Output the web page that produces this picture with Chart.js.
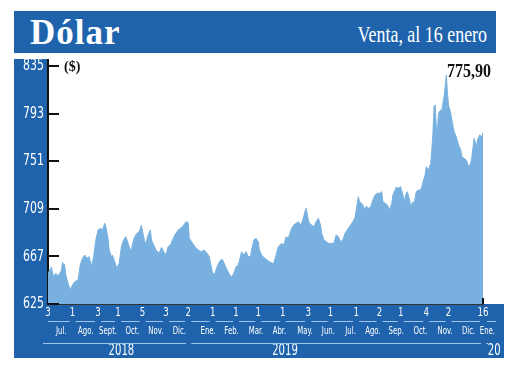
<!DOCTYPE html>
<html><head><meta charset="utf-8">
<script src="https://cdn.jsdelivr.net/npm/chart.js@4/dist/chart.umd.min.js"></script>
<style>
html,body{margin:0;padding:0;background:#fff;}
#wrap{position:relative;width:520px;height:381px;overflow:hidden;}
#c{position:absolute;left:0;top:0;}
#hdr{position:absolute;left:14px;top:11px;width:482px;height:42px;background:#1f63ad;}
#t1{position:absolute;left:16px;top:4px;color:#fff;font:bold 35px/1 'Liberation Serif',serif;letter-spacing:1px;white-space:nowrap;}
#t2{position:absolute;right:9px;top:12px;color:#fff;font:23px/1 'Liberation Serif',serif;transform:scaleX(0.78);transform-origin:right center;white-space:nowrap;}
#unit{position:absolute;left:64px;top:60px;font:bold 14px/1 'Liberation Serif',serif;color:#111;}
#last{position:absolute;left:447px;top:62px;font:bold 18px/1 'Liberation Serif',serif;color:#111;transform:scaleX(0.89);transform-origin:left center;white-space:nowrap;}
</style></head>
<body>
<div id="wrap">
<canvas id="c" width="520" height="381"></canvas>
<div id="hdr"><div id="t1">Dólar</div><div id="t2">Venta, al 16 enero</div></div>
<div id="unit">($)</div>
<div id="last"></div>
</div>
<script>
// trading-session index (0 = 3 jul 2018, 391 = 16 ene 2020)
const sessions = [
0,3,5,7,9,12,13,15,16,18,
20,22,24,27,29,31,33,35,37,39,
41,43,45,47,49,51,52,54,55,57,
58,60,62,64,66,68,70,71,73,75,
76,78,80,82,84,85,87,88,90,92,
93,95,97,100,102,104,106,108,110,112,
114,117,119,121,123,124,126,127,129,131,
133,135,138,140,142,144,145,147,148,150,
152,154,156,157,159,161,163,165,167,169,
171,173,174,176,178,180,182,183,185,187,
189,190,192,194,196,199,202,203,205,207,
210,212,214,216,219,221,223,225,227,229,
231,232,234,235,237,239,241,243,245,246,
248,250,252,255,257,259,261,263,265,267,
270,272,274,276,277,279,280,282,283,285,
286,288,290,292,294,296,298,300,301,303,
305,307,309,310,312,313,315,317,319,320,
322,323,325,326,328,329,331,333,335,336,
338,339,340,342,344,345,346,347,348,349,
350,351,353,354,356,357,358,359,360,362,
363,365,367,369,371,372,374,376,378,380,
381,383,385,386,388,390,391];
const values = [
652.1,657.4,649.1,652.1,649.7,654.4,661.5,659.4,650.6,643.3,
637.4,641.8,644.7,646.2,659.4,665.3,668.2,665.3,666.8,657.9,
666.8,681.5,690.3,691.8,690.3,696.2,693.2,683.0,672.6,666.8,
668.2,662.3,656.5,660.9,675.6,681.5,684.4,681.5,675.6,671.1,
678.5,684.4,687.4,688.8,694.7,688.8,680.0,678.5,685.9,690.3,
681.5,677.1,672.6,669.7,675.0,671.1,668.2,675.6,677.1,681.5,
685.9,690.3,691.8,693.2,696.2,697.6,696.7,683.0,680.0,677.1,
674.7,672.6,671.1,672.6,671.1,668.2,666.8,656.5,651.5,652.1,
657.9,662.3,664.4,663.8,659.4,655.0,651.5,648.5,652.1,657.9,
659.4,666.8,671.1,668.2,671.1,666.8,666.8,672.6,681.5,683.0,
680.0,672.6,668.2,666.1,664.4,662.3,660.9,661.5,668.2,675.6,
678.5,677.1,684.4,683.0,691.8,694.7,696.2,697.6,694.7,699.1,
706.4,709.4,699.1,696.2,694.7,693.2,697.6,700.6,694.7,687.4,
681.5,680.0,678.5,678.5,678.5,685.9,684.4,680.0,681.5,687.4,
691.8,694.7,697.6,701.5,707.9,719.7,715.3,713.8,712.4,707.9,
711.5,709.4,710.9,716.8,721.2,722.7,722.7,724.1,715.3,713.8,
712.4,708.0,713.8,721.2,725.6,728.0,727.1,728.5,721.2,715.3,
722.7,724.1,716.8,710.9,715.3,712.4,724.1,725.6,725.6,728.5,
735.9,738.8,746.2,743.2,749.1,760.9,775.6,799.1,800.6,781.4,
777.0,793.3,796.2,796.2,808.0,816.8,827.1,812.3,800.6,793.3,
787.4,777.0,772.6,765.3,760.9,754.9,753.5,752.1,746.2,749.1,
754.9,771.2,763.8,769.7,774.1,772.6,775.9];
const yTicks = [625,667,709,751,793,835];
const monthStarts = [0,22,45,63,85,106,126,148,169,189,211,234,254,277,298,317,340,360,391];
const dayLabels = ['3','1','3','1','5','3','2','1','1','1','1','3','1','1','2','1','4','2','16'];
const monthCenters = [12,34,54,76,97,118,144,165,187,208,231,252,272,292,313,335,357,378,395];
const monthLabels = ['Jul.','Ago.','Sept.','Oct.','Nov.','Dic.','Ene.','Feb.','Mar.','Abr.','May.','Jun.','Jul.','Ago.','Sep.','Oct.','Nov.','Dic.','Ene.'];
const yearStarts = [0,126,391];
const yearCenters = [66,213,401];
const yearLabels = ['2018','2019','20'];
const lastLabel = '775,90';

document.getElementById('last').textContent = lastLabel;

const BLUE = '#1f63ad';
const FILL = '#78b1e0';
const NARROW = "'Liberation Sans Narrow','DejaVu Sans Condensed',sans-serif";
const X_MIN = sessions[0], X_MAX = sessions[sessions.length-1];
const SQUEEZE = {x:0.8, xm:0.7, xy:0.7, y:0.76};

// condense tick label glyphs horizontally (the reference uses a condensed face)
const origCompute = Chart.Scale.prototype._computeLabelItems;
Chart.Scale.prototype._computeLabelItems = function(area){
  const items = origCompute.call(this, area);
  const f = SQUEEZE[this.id];
  if (f) {
    const ctx = this.ctx;
    ctx.save();
    items.forEach(it => {
      ctx.font = it.font.string;
      it.options.maxWidth = ctx.measureText(String(it.label)).width * f;
    });
    ctx.restore();
  }
  return items;
};

function xAxis(weight, height, ticksArr, labels, size, pad, border){
  return {
    type:'linear', position:'bottom', min:X_MIN, max:X_MAX, weight:weight,
    afterBuildTicks: s => { s.ticks = ticksArr.map(v => ({value:v})); },
    afterFit: s => { s.height = height; },
    grid:{display:false, drawTicks:false},
    border: border ? {display:true, color:'#333', width:2} : {display:false},
    ticks:{autoSkip:false, maxRotation:0, minRotation:0, padding:pad, color:'#fff',
      font:{family:NARROW, size:size, lineHeight:1},
      callback:(v,i) => labels[i]}
  };
}

const deco = {
  id:'deco',
  beforeDraw(chart){
    const {ctx, chartArea:a} = chart;
    const bottom = chart.scales.xy.bottom;
    ctx.save();
    ctx.fillStyle = BLUE;
    ctx.fillRect(14, a.top-7, a.left-14, bottom-(a.top-7));
    ctx.fillRect(14, a.bottom, 504-14, bottom-a.bottom);
    ctx.restore();
  },
  afterDraw(chart){
    const {ctx, chartArea:a, scales} = chart;
    ctx.save();
    ctx.strokeStyle = '#111'; ctx.lineWidth = 2;
    ctx.beginPath(); ctx.moveTo(a.left, a.top-7); ctx.lineTo(a.left, a.top); ctx.stroke();
    yTicks.forEach(v => {
      const y = Math.round(scales.y.getPixelForValue(v));
      ctx.beginPath(); ctx.moveTo(a.left, y); ctx.lineTo(a.left+11, y); ctx.stroke();
    });
    const xe = scales.x.getPixelForValue(X_MAX);
    ctx.beginPath(); ctx.moveTo(xe, a.bottom); ctx.lineTo(xe, a.bottom-6); ctx.stroke();
    // separator segments
    ctx.strokeStyle = '#9fc3ea'; ctx.lineWidth = 1;
    const xs = scales.x;
    const r1 = Math.round(scales.x.bottom)+0.5;
    for (let i=0;i<monthStarts.length-1;i++){
      const x0 = xs.getPixelForValue(monthStarts[i]) + (i ? 3 : 0);
      const x1 = xs.getPixelForValue(monthStarts[i+1]) - 3;
      ctx.beginPath(); ctx.moveTo(x0, r1); ctx.lineTo(x1, r1); ctx.stroke();
    }
    ctx.beginPath(); ctx.moveTo(xe+4, r1); ctx.lineTo(496, r1); ctx.stroke();
    const r2 = Math.round(scales.xm.bottom)+0.5;
    for (let i=0;i<yearStarts.length;i++){
      const x0 = i ? xs.getPixelForValue(yearStarts[i]) + 3 : a.left-5;
      const x1 = i < yearStarts.length-1 ? xs.getPixelForValue(yearStarts[i+1]) - 2 : 488;
      ctx.beginPath(); ctx.moveTo(x0, r2); ctx.lineTo(x1, r2); ctx.stroke();
    }
    ctx.restore();
  }
};

new Chart(document.getElementById('c'), {
  type:'line',
  data:{datasets:[{
    data: sessions.map((s,i) => ({x:s, y:values[i]})),
    fill:'start', backgroundColor:FILL, borderColor:FILL, borderWidth:1,
    pointRadius:0, tension:0
  }]},
  options:{
    responsive:false, animation:false, events:[],
    layout:{padding:{left:14, right:37, top:66, bottom:23}},
    plugins:{legend:{display:false}, tooltip:{enabled:false}, title:{display:false}},
    scales:{
      x: xAxis(0, 17, monthStarts, dayLabels, 12, 3, true),
      xm: xAxis(1, 22, monthCenters, monthLabels, 11, 5, false),
      xy: xAxis(2, 15, yearCenters, yearLabels, 16, 0, false),
      y:{
        min:625, max:835,
        afterBuildTicks: s => { s.ticks = yTicks.map(v => ({value:v})); },
        afterFit: s => { s.width = 34; },
        grid:{display:false, drawTicks:false},
        border:{display:true, color:'#111', width:2},
        ticks:{padding:4, color:'#fff', font:{family:NARROW, size:16, lineHeight:1}}
      }
    }
  },
  plugins:[deco]
});
</script>
</body></html>
